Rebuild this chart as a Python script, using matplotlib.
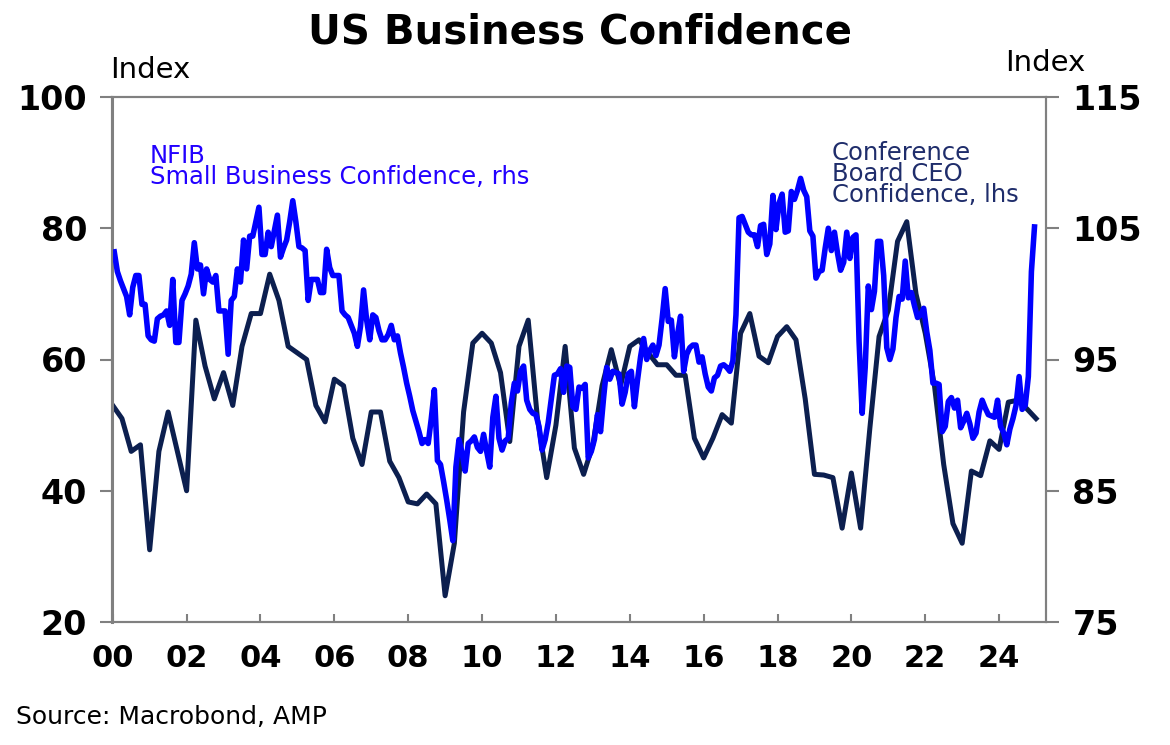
import numpy as np
import matplotlib
matplotlib.use("Agg")
import matplotlib.pyplot as plt

# NFIB small business optimism, monthly Jan 2000 - Dec 2024 (rhs)
nfib = [
    103.2, 101.7, 101.0, 100.4, 99.8, 98.4, 100.5, 101.4, 101.4, 99.2, 99.2, 96.8,   # 2000
    96.5, 96.4, 98.1, 98.3, 98.4, 98.7, 97.6, 101.1, 96.3, 96.3, 99.5, 100.0,        # 2001
    100.6, 101.5, 103.9, 101.9, 102.2, 100.0, 101.9, 101.1, 100.9, 101.4, 98.7, 98.7, # 2002
    98.7, 95.4, 99.5, 99.8, 101.9, 100.9, 104.1, 101.9, 104.4, 104.4, 105.5, 106.6,  # 2003
    103.0, 103.0, 104.7, 103.6, 104.8, 106.0, 102.8, 103.5, 104.1, 105.5, 107.1, 105.5, # 2004
    103.6, 103.5, 103.3, 99.5, 101.1, 101.1, 101.1, 100.1, 100.1, 103.4, 102.0, 101.4, # 2005
    101.4, 101.4, 98.7, 98.4, 98.2, 97.6, 97.0, 96.0, 97.5, 100.3, 98.0, 96.5,       # 2006
    98.4, 98.2, 97.2, 96.5, 96.5, 96.9, 97.6, 96.5, 96.8, 95.5, 94.4, 93.2,          # 2007
    92.2, 91.1, 90.3, 89.5, 88.6, 88.9, 88.6, 90.5, 92.7, 87.3, 87.0, 85.7,          # 2008
    84.3, 82.8, 81.2, 86.8, 88.9, 87.9, 86.5, 88.6, 88.8, 89.1, 88.3, 88.0,          # 2009
    89.3, 88.0, 86.8, 90.6, 92.2, 89.0, 88.1, 88.8, 89.0, 91.7, 93.2, 92.6,          # 2010
    94.1, 94.5, 91.9, 91.2, 90.9, 90.8, 89.9, 88.1, 88.9, 90.2, 92.0, 93.8,          # 2011
    93.9, 94.3, 92.5, 94.5, 94.4, 91.4, 91.2, 92.9, 92.8, 93.1, 87.5, 88.0,          # 2012
    88.9, 90.8, 89.5, 92.1, 94.4, 93.5, 94.1, 94.0, 93.9, 91.6, 92.5, 93.9,          # 2013
    94.1, 91.4, 93.4, 95.2, 96.6, 95.0, 95.7, 96.1, 95.3, 96.1, 98.1, 100.4,         # 2014
    97.9, 98.0, 95.2, 96.9, 98.3, 94.1, 95.4, 95.9, 96.1, 96.1, 94.8, 95.2,          # 2015
    93.9, 92.9, 92.6, 93.6, 93.8, 94.5, 94.6, 94.4, 94.1, 94.9, 98.4, 105.8,         # 2016
    105.9, 105.3, 104.7, 104.5, 104.5, 103.6, 105.2, 105.3, 103.0, 103.8, 107.5, 104.9, # 2017
    106.9, 107.6, 104.7, 104.8, 107.8, 107.2, 107.9, 108.8, 107.9, 107.4, 104.8, 104.4, # 2018
    101.2, 101.7, 101.8, 103.5, 105.0, 103.3, 104.7, 103.1, 101.8, 102.4, 104.7, 102.7, # 2019
    104.3, 104.5, 96.4, 90.9, 94.4, 100.6, 98.8, 100.2, 104.0, 104.0, 101.4, 95.9,   # 2020
    95.0, 95.8, 98.2, 99.8, 99.6, 102.5, 99.7, 100.1, 99.1, 98.2, 98.4, 98.9,        # 2021
    97.1, 95.7, 93.2, 93.2, 93.1, 89.5, 89.9, 91.8, 92.1, 91.3, 91.9, 89.8,          # 2022
    90.3, 90.9, 90.1, 89.0, 89.4, 91.0, 91.9, 91.3, 90.8, 90.7, 90.6, 91.9,          # 2023
    89.9, 89.4, 88.5, 89.7, 90.5, 91.5, 93.7, 91.2, 91.5, 93.7, 101.7, 105.1,        # 2024
]

# Conference Board CEO confidence, quarterly 2000 - 2025 (lhs)
ceo = [
    53, 51, 46, 47,
    31, 46, 52, 46,
    40, 66, 59, 54,
    58, 53, 62, 67,
    67, 73, 69, 62,
    61, 60, 53, 50.5,
    57, 56, 48, 44,
    52, 52, 44.5, 42,
    38.3, 38, 39.5, 38,
    24, 32, 52, 62.5,
    64, 62.5, 58, 47.5,
    62, 66, 51, 42,
    50, 62, 46.5, 42.5,
    47, 56, 61.5, 56,
    62, 63, 61, 59.2,
    59.2, 57.6, 57.6, 48,
    45, 48, 51.6, 50.3,
    64, 67, 60.5, 59.5,
    63.5, 65, 63, 54,
    42.5, 42.4, 42, 34.3,
    42.7, 34.3, 49.5, 63.5,
    67.5, 78, 81, 70,
    64, 56, 44, 35,
    32, 43, 42.3, 47.6,
    46.3, 53.5, 53.8, 52.5,
    51,
]

nfib_x = 2000 + (np.arange(len(nfib)) + 0.5) / 12
ceo_x = 2000 + 0.25 * np.arange(len(ceo))

year_ticks = list(range(2000, 2025, 2))
year_labels = ["%02d" % (y % 100) for y in year_ticks]

blue = "#0000ff"
navy = "#0c1f4f"
grey = "#808080"

fig = plt.figure(figsize=(11.7, 7.45), dpi=100)
ax = fig.add_axes([112 / 1170, 1 - 622 / 745, (1046 - 112) / 1170, (622 - 97) / 745])
ax2 = ax.twinx()

ax.plot(ceo_x, ceo, color=navy, lw=3.6, solid_joinstyle="round")
ax2.plot(nfib_x, nfib, color=blue, lw=4.0, solid_joinstyle="round")

ax.set_xlim(1999.98, 2025.27)
ax.set_ylim(20, 100)
ax2.set_ylim(75, 115)
ax.set_yticks([20, 40, 60, 80, 100])
ax2.set_yticks([75, 85, 95, 105, 115])
ax.set_xticks(year_ticks)
ax.set_xticklabels(year_labels)

for a in (ax, ax2):
    for s in a.spines.values():
        s.set_color(grey)
        s.set_linewidth(1.5)
ax.spines["left"].set_linewidth(2.2)

ax.tick_params(axis="y", direction="out", length=9, width=1.5, color=grey,
               pad=9, labelsize=24)
ax.tick_params(axis="x", direction="in", length=6, width=1.5, color=grey,
               pad=16, labelsize=22)
ax2.tick_params(axis="y", direction="out", length=9, width=1.5, color=grey,
                pad=10, labelsize=24)
for lab in ax.get_yticklabels() + ax.get_xticklabels() + ax2.get_yticklabels():
    lab.set_fontweight("bold")

fig.text(580 / 1170, 1 - 33 / 745, "US Business Confidence", ha="center",
         va="center", fontsize=29, fontweight="bold")
fig.text(110 / 1170, 1 - 70 / 745, "Index", ha="left", va="center", fontsize=21)
fig.text(1005 / 1170, 1 - 63 / 745, "Index", ha="left", va="center", fontsize=21)
fig.text(16 / 1170, 1 - 717 / 745, "Source: Macrobond, AMP", ha="left",
         va="center", fontsize=18)

fig.text(150 / 1170, 1 - 144 / 745, "NFIB\nSmall Business Confidence, rhs",
         ha="left", va="top", fontsize=17.5, color="#2200ff", linespacing=0.85)
fig.text(832 / 1170, 1 - 141 / 745, "Conference\nBoard CEO\nConfidence, lhs",
         ha="left", va="top", fontsize=17.5, color="#1f2d6b", linespacing=0.85)

fig.savefig("out.png", dpi=100)
